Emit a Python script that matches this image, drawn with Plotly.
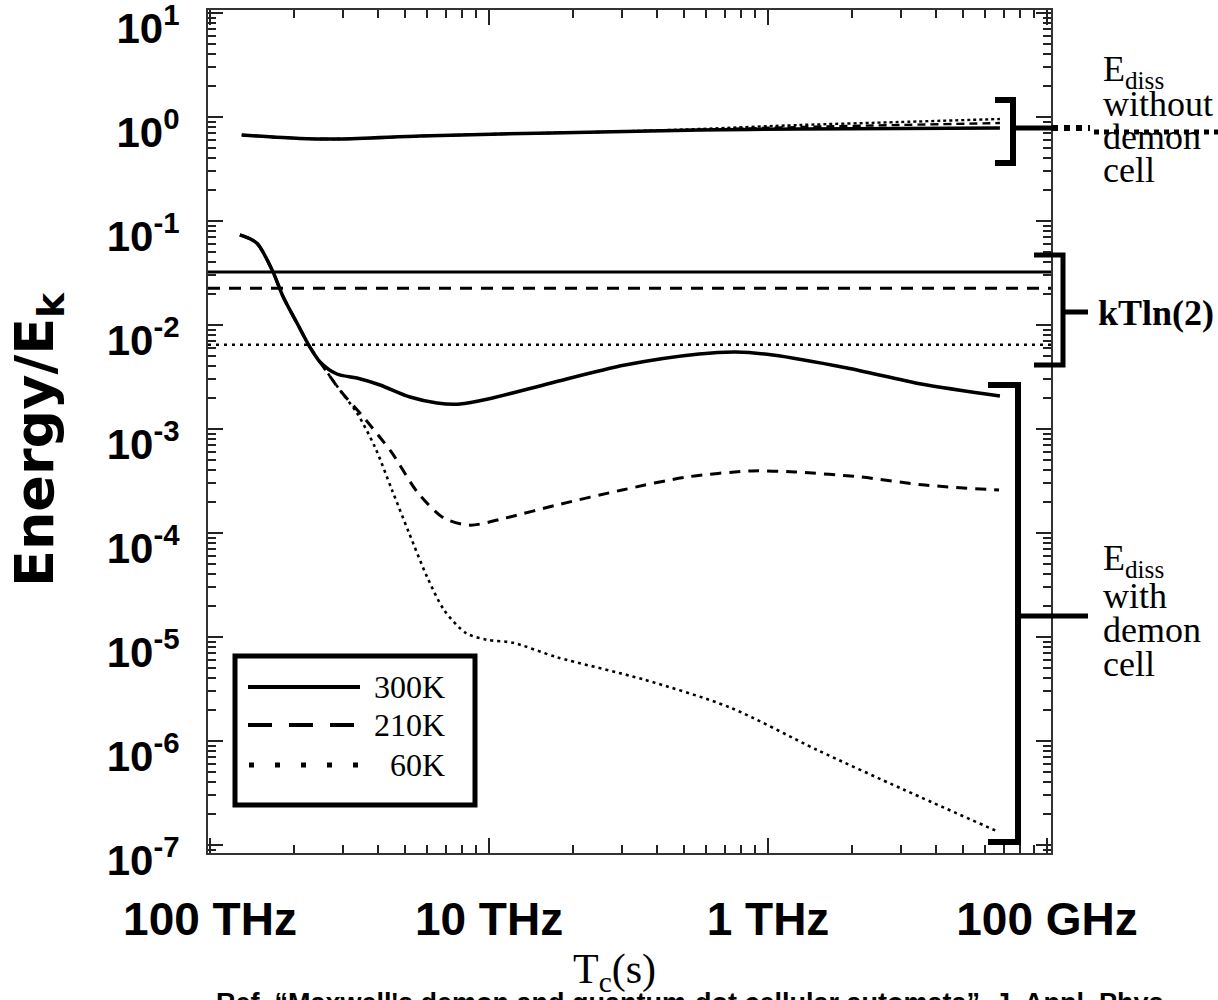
import plotly.graph_objects as go

# ---------------- data (T_c in seconds, energies in units of E_k) ----------------
# curves "with demon cell"
T_300K = [1.28e-14, 1.47e-14, 1.67e-14, 1.83e-14, 2.05e-14, 2.28e-14,
          2.48e-14, 2.85e-14, 3.36e-14, 4.07e-14, 5.21e-14, 6.51e-14, 7.87e-14,
          9.92e-14, 1.67e-13, 3.07e-13, 5.66e-13, 7.68e-13, 1.04e-12, 1.92e-12,
          3.54e-12, 6.78e-12]
E_300K = [0.0735, 0.0615, 0.0338, 0.0186, 0.01045, 0.00614,
          0.00441, 0.00338, 0.00309, 0.00265, 0.00203, 0.00178, 0.00174,
          0.00194, 0.00277, 0.00412, 0.00526, 0.0055, 0.00515, 0.00386,
          0.00271, 0.00208]

T_210K = [1.28e-14, 1.47e-14, 1.67e-14, 1.83e-14, 2.05e-14, 2.28e-14,
          2.58e-14, 2.92e-14, 3.62e-14, 4.49e-14, 5.57e-14, 6.90e-14, 8.55e-14,
          1.14e-13, 1.75e-13, 3.00e-13, 5.13e-13, 8.76e-13, 1.25e-12, 2.14e-12,
          3.65e-12, 6.73e-12]
E_210K = [0.0735, 0.0615, 0.0338, 0.0186, 0.01045, 0.00614,
          0.00378, 0.00237, 0.00122, 5.88e-4, 2.42e-4, 1.39e-4, 1.19e-4,
          1.39e-4, 1.86e-4, 2.59e-4, 3.46e-4, 3.95e-4, 3.86e-4, 3.46e-4,
          2.89e-4, 2.59e-4]

T_60K = [1.28e-14, 1.47e-14, 1.67e-14, 1.83e-14, 2.05e-14, 2.28e-14,
         2.58e-14, 2.92e-14, 3.36e-14, 3.90e-14, 4.49e-14, 5.17e-14, 6.00e-14,
         6.90e-14, 8.27e-14, 9.84e-14, 1.22e-13, 1.75e-13, 3.59e-13, 7.31e-13,
         1.50e-12, 3.07e-12, 6.73e-12]
E_60K = [0.0735, 0.0615, 0.0338, 0.0186, 0.01045, 0.00614,
         0.00378, 0.00237, 0.00143, 6.71e-4, 2.59e-4, 1.0e-4, 3.78e-5,
         1.82e-5, 1.09e-5, 9.4e-6, 8.8e-6, 6.4e-6, 3.9e-6, 2.1e-6,
         8.2e-7, 3.4e-7, 1.33e-7]

# curves "without demon cell"
T_nodemon = [1.30e-14, 2.10e-14, 2.92e-14, 5.66e-14, 1.10e-13, 2.50e-13,
             5.71e-13, 1.30e-12, 2.97e-12, 6.78e-12]
E_nodemon_300K = [0.671, 0.621, 0.614, 0.656, 0.687, 0.718, 0.750, 0.767, 0.775, 0.784]
E_nodemon_210K = [0.671, 0.621, 0.614, 0.656, 0.687, 0.718, 0.755, 0.801, 0.838, 0.875]
E_nodemon_60K = [0.671, 0.621, 0.614, 0.656, 0.687, 0.718, 0.767, 0.838, 0.895, 0.957]

# kT ln(2) levels
KT_300K = 0.0323
KT_210K = 0.0226
KT_60K = 0.00646

# axes
X_RANGE_LOG = [-14.0072, -10.9857]
Y_RANGE_LOG = [-7.077, 1.029]
X_TICKVALS = [1e-14, 1e-13, 1e-12, 1e-11]
X_TICKTEXT = ["100 THz", "10 THz", "1 THz", "100 GHz"]
Y_EXPONENTS = [1, 0, -1, -2, -3, -4, -5, -6, -7]

LEGEND_NAMES = ["300K", "210K", "60K"]

# ---------------- layout helpers ----------------
W, H = 1218, 1000
ML, MR, MT, MB = 208, 167, 10, 147
PW, PH = W - ML - MR, H - MT - MB


def px(xp):
    return (xp - ML) / PW


def py(yp):
    return (H - MB - yp) / PH


SERIF = "Liberation Serif, Times New Roman, serif"
SANS = "Liberation Sans, Arial, sans-serif"

SOLID = dict(color="black", width=3.5, dash="solid")
DASH = dict(color="black", width=3, dash="11px,8px")
DOT = dict(color="black", width=2.6, dash="3px,4px")

fig = go.Figure()

series = [
    (T_300K, E_300K, SOLID),
    (T_210K, E_210K, DASH),
    (T_60K, E_60K, DOT),
]
for (t, e, ln), name in zip(series, LEGEND_NAMES):
    fig.add_trace(go.Scatter(x=t, y=e, mode="lines", name=name, line=ln,
                             line_shape="spline", line_smoothing=0.8,
                             showlegend=False))

upper = [
    (E_nodemon_60K, dict(color="black", width=2.4, dash="3px,3px")),
    (E_nodemon_210K, dict(color="black", width=2.4, dash="8px,5px")),
    (E_nodemon_300K, dict(color="black", width=3.5, dash="solid")),
]
for e, ln in upper:
    fig.add_trace(go.Scatter(x=T_nodemon, y=e, mode="lines", line=ln,
                             line_shape="spline", line_smoothing=0.8,
                             showlegend=False))

x_ends = [10 ** X_RANGE_LOG[0], 10 ** X_RANGE_LOG[1]]
for val, ln in [(KT_300K, dict(color="black", width=3)),
                (KT_210K, dict(color="black", width=3, dash="12px,9px")),
                (KT_60K, dict(color="black", width=2.6, dash="3px,5px"))]:
    fig.add_trace(go.Scatter(x=x_ends, y=[val, val], mode="lines", line=ln,
                             showlegend=False))

shapes = []


def seg(x0, y0, x1, y1, width=5, dash="solid"):
    shapes.append(dict(type="line", xref="paper", yref="paper",
                       x0=px(x0), y0=py(y0), x1=px(x1), y1=py(y1),
                       line=dict(color="black", width=width, dash=dash)))


def bracket(xl, xr, ytop, ybot, width=6):
    shapes.append(dict(type="path", xref="paper", yref="paper",
                       path=f"M {px(xl)},{py(ytop)} L {px(xr)},{py(ytop)} "
                            f"L {px(xr)},{py(ybot)} L {px(xl)},{py(ybot)}",
                       line=dict(color="black", width=width)))


# bracket: without demon cell
bracket(995, 1013, 100, 163)
seg(1013, 128, 1052, 128, width=5)
seg(1052, 128, 1090, 128, width=6, dash="dot")
seg(1094, 132, 1218, 132, width=5, dash="dot")
# bracket: kTln(2)
bracket(1034, 1063, 255, 365, width=5)
seg(1063, 312, 1088, 312, width=5)
# bracket: with demon cell
bracket(988, 1018, 385, 842, width=6)
seg(1018, 616, 1088, 616, width=5)

# legend box (drawn manually)
shapes.append(dict(type="rect", xref="paper", yref="paper",
                   x0=px(235), x1=px(475), y0=py(656), y1=py(805),
                   line=dict(color="black", width=5), fillcolor="white"))
seg(248, 687, 360, 687, width=4)
seg(248, 725, 360, 725, width=4, dash="24px,17px")
seg(249, 765, 360, 765, width=5, dash="5px,21px")

annotations = []


def text(xp, yp, s, size=36, family=SERIF, xanchor="left", yanchor="middle",
         angle=0):
    annotations.append(dict(x=px(xp), y=py(yp), xref="paper", yref="paper",
                            text=s, showarrow=False, xanchor=xanchor,
                            yanchor=yanchor, textangle=angle,
                            font=dict(family=family, size=size, color="black")))


for name, yc in zip(LEGEND_NAMES, [687, 725, 765]):
    text(447, yc, name, size=32, xanchor="right")

text(1101, 72, "E<sub>diss</sub>")
text(1101, 104, "without")
text(1101, 137, "demon")
text(1101, 170, "cell")

text(1101, 560, "E<sub>diss</sub>")
text(1101, 596, "with")
text(1101, 630, "demon")
text(1101, 664, "cell")

text(1096, 313, "<b>kTln(2)</b>", size=36)

text(38, 440, "<b>Energy/E<sub>k</sub></b>", size=54,
     family="DejaVu Sans, Liberation Sans, Arial, sans-serif",
     xanchor="center", angle=-90)
text(614, 972, "T<sub>c</sub>(s)", size=42, xanchor="center")
text(214, 986, "<b>Ref. “Maxwell's demon and quantum-dot cellular automata”, J. Appl. Phys.</b>",
     size=27, family=SANS, yanchor="top")

y_tickvals = [10.0 ** p for p in Y_EXPONENTS]
y_ticktext = [f"10<sup>{p}</sup>" for p in Y_EXPONENTS]
y_minor = [d * 10.0 ** e for e in range(-8, 1) for d in range(2, 10)]
x_minor = [d * 10.0 ** e for e in range(-15, -10) for d in range(2, 10)]

fig.update_layout(
    width=W, height=H,
    margin=dict(l=ML, r=MR, t=MT, b=MB, autoexpand=False),
    paper_bgcolor="white", plot_bgcolor="white",
    showlegend=False,
    shapes=shapes, annotations=annotations,
    xaxis=dict(type="log", range=X_RANGE_LOG, tickmode="array",
               tickvals=X_TICKVALS, ticktext=X_TICKTEXT,
               ticks="inside", ticklen=15, tickwidth=2, tickcolor="#222",
               showline=True, linecolor="#333", linewidth=2, mirror="allticks",
               showgrid=False, zeroline=False,
               ticklabelstandoff=25, ticklabeloverflow="allow",
               tickfont=dict(family=SANS, size=46, color="black", weight="bold"),
               minor=dict(tickmode="array", tickvals=x_minor, ticks="inside",
                          ticklen=8, tickwidth=1.5, tickcolor="#222",
                          showgrid=False)),
    yaxis=dict(type="log", range=Y_RANGE_LOG, tickmode="array",
               tickvals=y_tickvals, ticktext=y_ticktext,
               ticks="inside", ticklen=15, tickwidth=2, tickcolor="#222",
               showline=True, linecolor="#333", linewidth=2, mirror="allticks",
               showgrid=False, zeroline=False,
               ticklabelstandoff=18, ticklabelshift=15,
               ticklabeloverflow="allow",
               tickfont=dict(family=SANS, size=42, color="black", weight="bold"),
               minor=dict(tickmode="array", tickvals=y_minor, ticks="inside",
                          ticklen=8, tickwidth=1.5, tickcolor="#222",
                          showgrid=False)),
)

fig.write_html("out.html")
